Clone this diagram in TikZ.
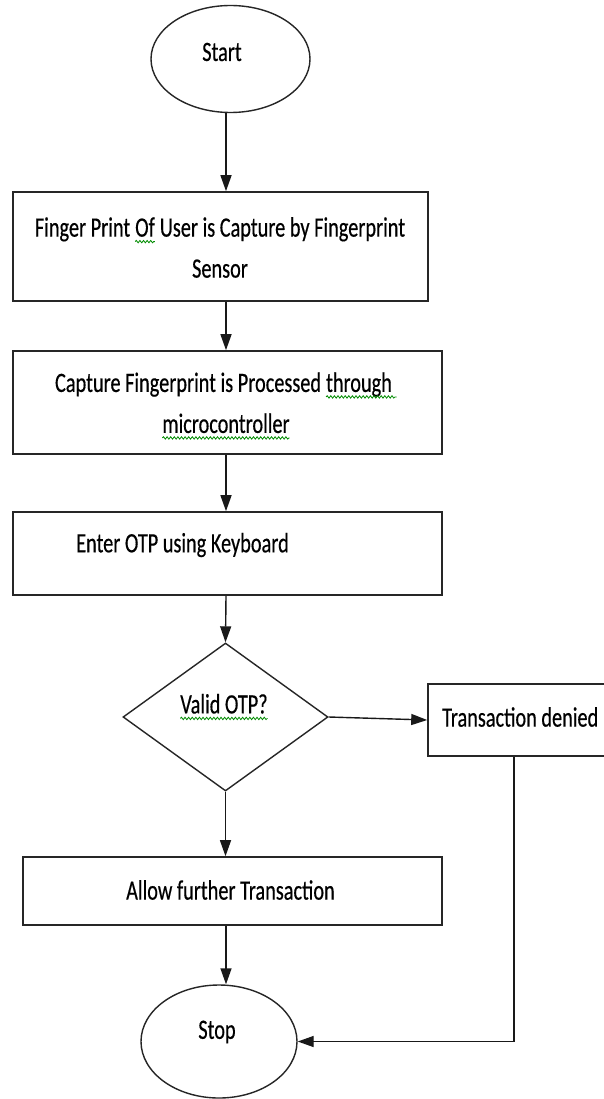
\documentclass[tikz,border=0pt]{standalone}
\usepackage{fontspec}
\setmainfont{Carlito}[FakeStretch=0.725,FakeBold=0.4]
\usetikzlibrary{shapes.geometric,arrows.meta,decorations.pathmorphing,calc}
\newcommand\squig[1]{\tikz[baseline=(w.base)]{\node[shape=rectangle,draw=none,fill=none,inner sep=0pt,outer sep=0pt,minimum width=0pt,minimum height=0pt,align=left](w){#1};\draw[green!55!black,line width=0.8pt,decorate,decoration={snake,amplitude=1.2pt,segment length=3.6pt}] ([yshift=-5pt]w.base west) -- ([yshift=-5pt]w.base east);}}
\begin{document}
\begin{tikzpicture}[x=1pt,y=-1pt,
 box/.style={draw=black!85, line width=1.6pt, rectangle, inner sep=0pt},
 term/.style={draw=black!85, line width=1.4pt, ellipse, inner sep=0pt},
 dec/.style={draw=black!85, line width=1.4pt, diamond, inner sep=0pt},
 txt/.style={inner sep=0pt, font=\fontsize{28}{41}\selectfont, text=black},
 arr/.style={draw=black!90, line width=1.4pt, -{Triangle[length=16pt,width=11pt]}}]
\useasboundingbox (0,0) rectangle (603,1099);
\fill[white] (0,0) rectangle (603,1099);
\coordinate (col) at (226,0);
\coordinate (rcol) at (514,0);
% nodes
\node[term, minimum width=159pt, minimum height=107pt] (start) at (230.5,59) {};
\node[txt] (starttxt) at (222,52) {Start};
\node[box, minimum width=415pt, minimum height=109pt] (b1) at (220.5,246.5) {};
\node[txt, align=center] (b1t) at (220,247.5) {Finger Print \squig{Of} User is Capture by Fingerprint\\Sensor};
\node[box, minimum width=429pt, minimum height=103pt] (b2) at (227.5,402.5) {};
\node[txt, align=center] (b2t) at (226,406) {Capture Fingerprint is Processed \squig{through\,}\\\squig{microcontroller}};
\node[box, minimum width=429pt, minimum height=83pt] (b3) at (227.5,553.5) {};
\node[txt, anchor=west] (b3t) at (76,545) {Enter OTP using Keyboard};
\node[dec, minimum width=205pt, minimum height=148pt] (d) at (225.5,717) {};
\node[txt] (dt) at (224,707) {\squig{Valid OTP?}};
\node[box, minimum width=182pt, minimum height=72pt] (td) at (519,720) {};
\node[txt, anchor=west] (tdt) at (442,717) {Transaction denied};
\node[box, minimum width=419pt, minimum height=68pt] (b4) at (232.5,891) {};
\node[txt, anchor=west] (b4t) at (126,890) {Allow further Transaction};
\node[term, minimum width=156pt, minimum height=113pt] (stop) at (219,1041.5) {};
\node[txt] (stoptxt) at (217,1032) {Stop};
% connectors
\draw[arr] (start.south -| col) -- (b1.north -| col);
\draw[arr] (b1.south -| col) -- (b2.north -| col);
\draw[arr] (b2.south -| col) -- (b3.north -| col);
\draw[arr] (b3.south -| col) -- (d.north);
\draw[arr] (d.east) -- (td.west);
\draw[arr] (d.south) -- (b4.north -| d.south);
\draw[arr] (b4.south -| col) -- (stop.north -| col);
\draw[arr] (td.south -| rcol) |- (stop.east);
\end{tikzpicture}
\end{document}
